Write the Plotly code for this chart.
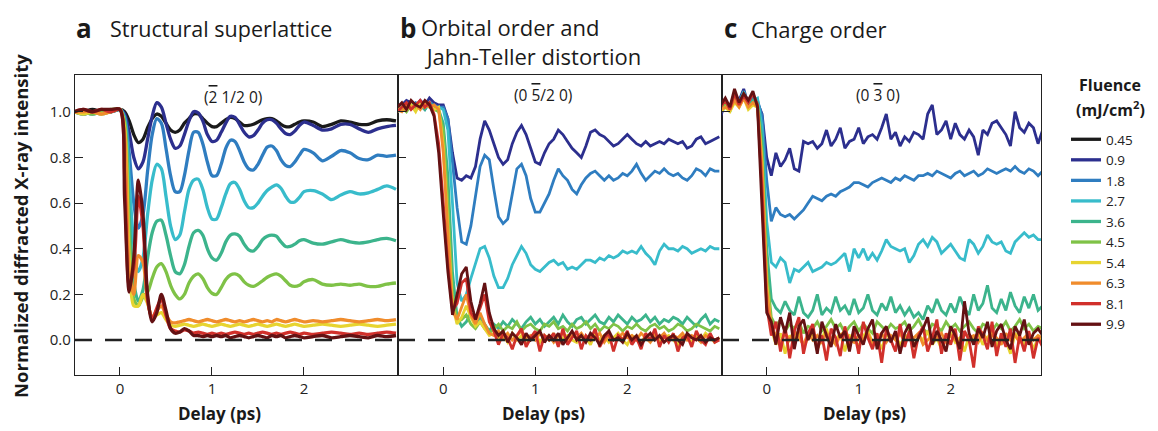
import plotly.graph_objects as go

# ---------------- data ----------------
fluences = ["0.45", "0.9", "1.8", "2.7", "3.6", "4.5", "5.4", "6.3", "8.1", "9.9"]
colors = ["#1a1a1a", "#2c2f8e", "#2f7dc0", "#38bccb", "#3cb48c", "#7fc247",
          "#e7d430", "#f08c2c", "#d1302b", "#641113"]

delay_a = [-0.5, -0.4, -0.3, -0.2, -0.1, 0.0,
           0.05, 0.10, 0.15, 0.20, 0.25, 0.30, 0.35, 0.40, 0.45, 0.50,
           0.55, 0.60, 0.65, 0.70, 0.75, 0.80, 0.85, 0.90, 0.95, 1.00,
           1.05, 1.10, 1.15, 1.20, 1.25, 1.30, 1.35, 1.40, 1.45, 1.50,
           1.55, 1.60, 1.65, 1.70, 1.75, 1.80, 1.85, 1.90, 1.95, 2.00,
           2.1, 2.2, 2.3, 2.4, 2.5, 2.6, 2.7, 2.8, 2.9, 3.0]

delay_bc = [-0.50, -0.45, -0.40, -0.35, -0.30, -0.25, -0.20, -0.15, -0.10, -0.05,
            0.00, 0.05, 0.10, 0.15, 0.20, 0.25, 0.30, 0.35, 0.40, 0.45,
            0.50, 0.55, 0.60, 0.65, 0.70, 0.75, 0.80, 0.85, 0.90, 0.95,
            1.00, 1.05, 1.10, 1.15, 1.20, 1.25, 1.30, 1.35, 1.40, 1.45,
            1.50, 1.55, 1.60, 1.65, 1.70, 1.75, 1.80, 1.85, 1.90, 1.95,
            2.00, 2.05, 2.10, 2.15, 2.20, 2.25, 2.30, 2.35, 2.40, 2.45,
            2.50, 2.55, 2.60, 2.65, 2.70, 2.75, 2.80, 2.85, 2.90, 2.95,
            3.00]

# panel a: structural superlattice (-2 1/2 0)
a_0p45 = [1.00, 1.00, 1.01, 1.00, 1.00, 1.01,
          1.00, 0.96, 0.90, 0.865, 0.88, 0.93, 0.97, 0.99, 0.98, 0.95,
          0.92, 0.91, 0.92, 0.95, 0.97, 0.99, 0.99, 0.97, 0.95, 0.935,
          0.935, 0.95, 0.965, 0.975, 0.97, 0.955, 0.94, 0.94, 0.945, 0.955,
          0.965, 0.97, 0.97, 0.96, 0.945, 0.935, 0.935, 0.945, 0.955, 0.96,
          0.955, 0.935, 0.945, 0.96, 0.955, 0.945, 0.945, 0.96, 0.965, 0.96]
a_0p9 = [1.00, 0.99, 1.00, 1.00, 1.00, 1.01,
         0.99, 0.91, 0.80, 0.75, 0.78, 0.88, 0.98, 1.04, 1.02, 0.95,
         0.88, 0.84, 0.85, 0.90, 0.96, 1.00, 0.995, 0.96, 0.90, 0.87,
         0.875, 0.91, 0.95, 0.98, 0.975, 0.945, 0.91, 0.89, 0.895, 0.92,
         0.95, 0.965, 0.965, 0.95, 0.925, 0.905, 0.90, 0.915, 0.94, 0.955,
         0.94, 0.92, 0.925, 0.945, 0.945, 0.925, 0.91, 0.925, 0.935, 0.94]
a_1p8 = [1.00, 1.00, 0.99, 1.00, 1.00, 1.01,
         0.98, 0.82, 0.60, 0.49, 0.55, 0.74, 0.90, 0.97, 0.95, 0.84,
         0.72, 0.65, 0.65, 0.72, 0.83, 0.91, 0.91, 0.86, 0.78, 0.72,
         0.72, 0.77, 0.84, 0.875, 0.87, 0.83, 0.78, 0.75, 0.745, 0.77,
         0.81, 0.845, 0.85, 0.83, 0.79, 0.765, 0.76, 0.78, 0.81, 0.835,
         0.82, 0.785, 0.805, 0.83, 0.82, 0.795, 0.79, 0.81, 0.805, 0.81]
a_2p7 = [1.00, 1.00, 1.00, 0.99, 1.00, 1.01,
         0.97, 0.70, 0.42, 0.30, 0.36, 0.55, 0.70, 0.77, 0.75, 0.63,
         0.50, 0.44, 0.46, 0.56, 0.66, 0.70, 0.705, 0.66, 0.58, 0.53,
         0.53, 0.58, 0.64, 0.685, 0.69, 0.66, 0.61, 0.58, 0.58, 0.60,
         0.63, 0.655, 0.67, 0.68, 0.665, 0.63, 0.605, 0.605, 0.625, 0.65,
         0.655, 0.64, 0.615, 0.635, 0.65, 0.64, 0.645, 0.66, 0.675, 0.66]
a_3p6 = [1.00, 0.99, 1.00, 1.00, 1.00, 1.01,
         0.96, 0.55, 0.25, 0.17, 0.22, 0.36, 0.47, 0.52, 0.525, 0.46,
         0.37, 0.30, 0.29, 0.33, 0.41, 0.47, 0.48, 0.46, 0.40, 0.36,
         0.35, 0.38, 0.43, 0.46, 0.465, 0.455, 0.42, 0.395, 0.39, 0.41,
         0.44, 0.455, 0.46, 0.455, 0.43, 0.41, 0.41, 0.42, 0.435, 0.44,
         0.425, 0.42, 0.43, 0.44, 0.43, 0.425, 0.43, 0.44, 0.445, 0.435]
a_4p5 = [1.00, 1.00, 0.99, 1.00, 1.01, 1.01,
         0.95, 0.45, 0.18, 0.15, 0.19, 0.21, 0.27, 0.32, 0.335, 0.30,
         0.24, 0.20, 0.18, 0.20, 0.25, 0.28, 0.29, 0.27, 0.23, 0.205,
         0.20, 0.23, 0.265, 0.285, 0.29, 0.28, 0.255, 0.24, 0.235, 0.245,
         0.26, 0.275, 0.285, 0.29, 0.28, 0.26, 0.24, 0.235, 0.24, 0.255,
         0.265, 0.245, 0.24, 0.245, 0.24, 0.245, 0.235, 0.235, 0.245, 0.25]
a_5p4 = [1.00, 0.99, 1.00, 0.99, 1.00, 1.01,
         0.93, 0.35, 0.15, 0.15, 0.20, 0.16, 0.10, 0.11, 0.12, 0.09,
         0.065, 0.06, 0.065, 0.07, 0.065, 0.06, 0.065, 0.07, 0.065, 0.06,
         0.065, 0.07, 0.065, 0.06, 0.065, 0.07, 0.065, 0.06, 0.065, 0.07,
         0.065, 0.06, 0.065, 0.07, 0.065, 0.06, 0.065, 0.07, 0.065, 0.06,
         0.065, 0.07, 0.065, 0.06, 0.065, 0.07, 0.065, 0.06, 0.065, 0.07]
a_6p3 = [1.00, 1.00, 1.00, 0.99, 1.00, 1.01,
         0.90, 0.30, 0.20, 0.37, 0.34, 0.17, 0.10, 0.13, 0.15, 0.11,
         0.08, 0.075, 0.08, 0.085, 0.09, 0.085, 0.08, 0.085, 0.09, 0.085,
         0.08, 0.085, 0.09, 0.085, 0.08, 0.085, 0.08, 0.085, 0.09, 0.085,
         0.08, 0.085, 0.08, 0.09, 0.085, 0.08, 0.085, 0.09, 0.085, 0.08,
         0.085, 0.08, 0.085, 0.09, 0.085, 0.08, 0.085, 0.09, 0.085, 0.09]
a_8p1 = [1.00, 1.01, 1.00, 1.01, 1.00, 1.01,
         0.72, 0.24, 0.32, 0.63, 0.50, 0.18, 0.09, 0.14, 0.18, 0.11,
         0.05, 0.04, 0.035, 0.045, 0.04, 0.03, 0.035, 0.03, 0.025, 0.03,
         0.025, 0.03, 0.025, 0.03, 0.035, 0.03, 0.025, 0.03, 0.025, 0.03,
         0.035, 0.03, 0.025, 0.03, 0.025, 0.03, 0.035, 0.03, 0.025, 0.03,
         0.025, 0.03, 0.035, 0.03, 0.025, 0.03, 0.025, 0.03, 0.035, 0.03]
a_9p9 = [1.00, 1.01, 1.00, 1.01, 1.01, 1.01,
         0.62, 0.21, 0.36, 0.70, 0.55, 0.20, 0.08, 0.12, 0.20, 0.13,
         0.05, 0.03, 0.035, 0.05, 0.04, 0.02, 0.02, 0.015, 0.02, 0.015,
         0.02, 0.015, 0.02, 0.01, 0.015, 0.02, 0.015, 0.01, 0.015, 0.02,
         0.015, 0.01, 0.02, 0.015, 0.02, 0.01, 0.015, 0.02, 0.015, 0.01,
         0.015, 0.02, 0.01, 0.015, 0.02, 0.015, 0.01, 0.02, 0.015, 0.02]

# panel b: orbital order (0 -5/2 0)
b_0p9 = [1.01, 1.03, 1.05, 1.04, 1.02, 1.05, 1.03, 1.06, 1.04, 1.03,
         1.03, 0.97, 0.82, 0.71, 0.70, 0.72, 0.71, 0.76, 0.88, 0.96,
         0.92, 0.86, 0.80, 0.77, 0.79, 0.86, 0.91, 0.94, 0.90, 0.84,
         0.78, 0.77, 0.82, 0.86, 0.88, 0.92, 0.90, 0.87, 0.84, 0.82,
         0.80, 0.85, 0.91, 0.92, 0.90, 0.89, 0.87, 0.85, 0.86, 0.88,
         0.90, 0.88, 0.86, 0.85, 0.87, 0.85, 0.86, 0.87, 0.86, 0.88,
         0.87, 0.86, 0.87, 0.84, 0.85, 0.88, 0.89, 0.86, 0.87, 0.88,
         0.89]
b_1p8 = [1.00, 1.02, 1.03, 1.02, 1.04, 1.03, 1.01, 1.04, 1.03, 1.02,
         1.02, 0.97, 0.78, 0.58, 0.43, 0.42, 0.50, 0.64, 0.76, 0.81,
         0.79, 0.66, 0.54, 0.51, 0.53, 0.64, 0.75, 0.77, 0.72, 0.62,
         0.56, 0.56, 0.60, 0.64, 0.70, 0.75, 0.72, 0.70, 0.66, 0.64,
         0.68, 0.71, 0.73, 0.74, 0.72, 0.70, 0.72, 0.70, 0.71, 0.73,
         0.72, 0.74, 0.77, 0.73, 0.70, 0.72, 0.74, 0.73, 0.75, 0.73,
         0.72, 0.73, 0.71, 0.70, 0.72, 0.75, 0.74, 0.72, 0.75, 0.74,
         0.74]
b_2p7 = [1.00, 1.01, 1.03, 1.02, 1.02, 1.04, 1.02, 1.03, 1.01, 1.02,
         1.01, 0.92, 0.60, 0.25, 0.17, 0.20, 0.27, 0.34, 0.40, 0.41,
         0.36, 0.28, 0.23, 0.23, 0.27, 0.33, 0.37, 0.41, 0.38, 0.33,
         0.31, 0.30, 0.32, 0.34, 0.35, 0.33, 0.34, 0.31, 0.32, 0.31,
         0.33, 0.35, 0.35, 0.34, 0.36, 0.35, 0.37, 0.36, 0.37, 0.39,
         0.38, 0.39, 0.38, 0.41, 0.38, 0.36, 0.33, 0.39, 0.42, 0.40,
         0.40, 0.39, 0.41, 0.40, 0.38, 0.39, 0.40, 0.39, 0.41, 0.40,
         0.40]
b_3p6 = [1.00, 1.02, 1.01, 1.03, 1.02, 1.03, 1.01, 1.04, 1.02, 1.01,
         0.95, 0.72, 0.30, 0.10, 0.06, 0.08, 0.12, 0.07, 0.10, 0.07,
         0.04, 0.07, 0.05, 0.08, 0.06, 0.09, 0.07, 0.05, 0.08, 0.10,
         0.07, 0.09, 0.06, 0.08, 0.10, 0.07, 0.11, 0.08, 0.06, 0.09,
         0.10, 0.07, 0.09, 0.11, 0.08, 0.07, 0.10, 0.08, 0.11, 0.09,
         0.07, 0.10, 0.08, 0.09, 0.11, 0.08, 0.10, 0.07, 0.09, 0.08,
         0.10, 0.09, 0.07, 0.10, 0.08, 0.06, 0.09, 0.11, 0.07, 0.09,
         0.08]
b_4p5 = [1.01, 1.02, 1.00, 1.03, 1.01, 1.03, 1.02, 1.03, 1.01, 1.00,
         0.92, 0.60, 0.20, 0.08, 0.09, 0.11, 0.07, 0.05, 0.08, 0.05,
         0.03, 0.05, 0.07, 0.04, 0.06, 0.05, 0.08, 0.04, 0.06, 0.07,
         0.05, 0.04, 0.07, 0.06, 0.08, 0.05, 0.06, 0.04, 0.07, 0.05,
         0.06, 0.08, 0.05, 0.07, 0.04, 0.06, 0.05, 0.07, 0.06, 0.04,
         0.06, 0.05, 0.07, 0.05, 0.04, 0.06, 0.07, 0.05, 0.06, 0.04,
         0.05, 0.07, 0.06, 0.04, 0.05, 0.07, 0.06, 0.05, 0.04, 0.06,
         0.05]
b_5p4 = [1.00, 1.02, 1.01, 1.03, 1.00, 1.04, 1.02, 1.03, 1.01, 1.02,
         0.85, 0.50, 0.15, 0.07, 0.10, 0.15, 0.10, 0.06, 0.08, 0.05,
         0.02, 0.03, 0.01, 0.02, -0.01, 0.03, 0.00, 0.02, -0.02, 0.01,
         0.03, -0.01, 0.02, 0.00, 0.03, -0.02, 0.01, 0.02, 0.00, -0.01,
         0.02, 0.01, -0.02, 0.03, 0.00, 0.02, -0.01, 0.01, 0.03, 0.00,
         -0.02, 0.02, 0.01, -0.01, 0.02, 0.00, 0.03, -0.01, 0.01, 0.02,
         0.00, -0.02, 0.02, 0.01, -0.01, 0.02, 0.00, 0.03, 0.01, -0.01,
         0.01]
b_6p3 = [1.01, 1.00, 1.03, 1.02, 1.03, 1.01, 1.04, 1.02, 1.03, 1.01,
         0.82, 0.45, 0.13, 0.09, 0.15, 0.20, 0.11, 0.07, 0.12, 0.07,
         0.03, 0.02, 0.04, 0.01, 0.03, 0.00, 0.02, 0.04, 0.01, 0.02,
         0.00, 0.03, 0.01, 0.02, -0.01, 0.02, 0.03, 0.00, 0.02, 0.01,
         0.03, 0.00, 0.02, 0.01, 0.03, -0.01, 0.02, 0.00, 0.01, 0.03,
         0.01, 0.02, 0.00, 0.03, 0.01, -0.01, 0.02, 0.01, 0.03, 0.00,
         0.02, 0.01, 0.03, 0.00, 0.02, 0.01, -0.01, 0.02, 0.01, 0.00,
         0.01]
b_8p1 = [1.00, 1.02, 1.04, 1.01, 1.03, 1.05, 1.02, 1.04, 0.99, 0.86,
         0.60, 0.33, 0.13, 0.16, 0.25, 0.27, 0.12, 0.09, 0.14, 0.20,
         0.08, 0.04, -0.02, 0.03, 0.01, -0.04, 0.02, 0.05, -0.03, 0.01,
         0.04, -0.05, 0.02, 0.00, 0.03, -0.03, 0.05, -0.02, 0.01, 0.04,
         -0.04, 0.02, 0.00, 0.05, -0.03, 0.01, 0.03, -0.05, 0.02, 0.00,
         0.04, -0.02, 0.01, -0.04, 0.03, 0.00, 0.05, -0.03, 0.02, -0.01,
         0.03, -0.05, 0.01, 0.02, -0.03, 0.04, 0.00, -0.02, 0.03, -0.01,
         0.00]
b_9p9 = [1.02, 1.04, 1.01, 1.05, 1.03, 1.02, 1.05, 1.03, 0.98, 0.82,
         0.55, 0.30, 0.11, 0.20, 0.29, 0.32, 0.17, 0.09, 0.16, 0.25,
         0.12, 0.05, 0.02, 0.04, -0.01, 0.03, 0.01, -0.02, 0.03, 0.00,
         0.02, 0.04, -0.01, 0.02, 0.00, 0.03, -0.02, 0.01, 0.04, 0.00,
         0.02, -0.01, 0.03, 0.01, -0.02, 0.02, 0.04, 0.00, 0.01, -0.01,
         0.03, 0.00, 0.02, -0.02, 0.01, 0.03, 0.00, 0.02, -0.01, 0.01,
         0.02, 0.00, -0.02, 0.03, 0.01, 0.00, 0.02, -0.01, 0.01, 0.00,
         0.01]

# panel c: charge order (0 -3 0)
c_0p9 = [0.98, 1.04, 1.02, 1.08, 1.05, 1.10, 1.03, 1.07, 1.04, 0.99,
         0.80, 0.72, 0.82, 0.76, 0.79, 0.84, 0.75, 0.74, 0.87, 0.86,
         0.87, 0.84, 0.86, 0.92, 0.85, 0.88, 0.93, 0.84, 0.87, 0.88,
         0.93, 0.86, 0.89, 0.90, 0.88, 0.93, 0.99, 0.88, 0.91, 0.85,
         0.89, 0.87, 0.91, 0.90, 0.88, 0.99, 1.03, 0.90, 0.92, 0.96,
         0.88, 0.95, 0.90, 0.88, 0.92, 0.89, 0.81, 0.92, 0.90, 0.95,
         0.96, 0.93, 0.90, 0.85, 1.00, 0.93, 0.91, 0.95, 0.93, 0.86,
         0.92]
c_1p8 = [1.00, 1.03, 1.01, 1.06, 1.04, 1.08, 1.02, 1.06, 1.05, 0.98,
         0.70, 0.52, 0.58, 0.55, 0.54, 0.55, 0.53, 0.55, 0.57, 0.60,
         0.63, 0.62, 0.61, 0.63, 0.64, 0.63, 0.65, 0.66, 0.67, 0.69,
         0.69, 0.68, 0.67, 0.69, 0.70, 0.71, 0.70, 0.69, 0.71, 0.70,
         0.72, 0.71, 0.70, 0.72, 0.72, 0.73, 0.72, 0.74, 0.73, 0.72,
         0.71, 0.73, 0.74, 0.72, 0.73, 0.74, 0.72, 0.73, 0.75, 0.74,
         0.73, 0.74, 0.75, 0.74, 0.76, 0.74, 0.73, 0.75, 0.74, 0.72,
         0.74]
c_2p7 = [1.01, 1.03, 1.00, 1.07, 1.04, 1.09, 1.03, 1.05, 1.06, 0.93,
         0.52, 0.34, 0.32, 0.36, 0.34, 0.25, 0.31, 0.30, 0.32, 0.34,
         0.30, 0.31, 0.32, 0.34, 0.33, 0.34, 0.36, 0.38, 0.30, 0.40,
         0.36, 0.40, 0.35, 0.38, 0.35, 0.39, 0.44, 0.41, 0.40, 0.39,
         0.40, 0.34, 0.37, 0.42, 0.44, 0.41, 0.45, 0.43, 0.38, 0.40,
         0.42, 0.39, 0.36, 0.35, 0.44, 0.42, 0.38, 0.41, 0.46, 0.43,
         0.42, 0.43, 0.39, 0.38, 0.43, 0.45, 0.47, 0.45, 0.46, 0.44,
         0.44]
c_3p6 = [1.00, 1.02, 1.01, 1.06, 1.03, 1.08, 1.02, 1.05, 1.04, 0.88,
         0.40, 0.18, 0.14, 0.12, 0.17, 0.13, 0.11, 0.19, 0.12, 0.10,
         0.13, 0.20, 0.11, 0.14, 0.12, 0.19, 0.13, 0.15, 0.11, 0.18,
         0.12, 0.14, 0.20, 0.13, 0.11, 0.16, 0.13, 0.19, 0.12, 0.15,
         0.11, 0.14, 0.10, 0.12, 0.09, 0.15, 0.12, 0.18, 0.13, 0.11,
         0.16, 0.12, 0.19, 0.14, 0.11, 0.20, 0.13, 0.16, 0.24, 0.14,
         0.12, 0.18, 0.13, 0.21, 0.15, 0.12, 0.19, 0.14, 0.20, 0.13,
         0.15]
c_4p5 = [1.01, 1.03, 1.02, 1.05, 1.03, 1.07, 1.02, 1.04, 1.03, 0.82,
         0.30, 0.10, 0.06, 0.09, 0.04, 0.07, 0.05, 0.08, 0.03, 0.06,
         0.05, 0.08, 0.04, 0.06, 0.09, 0.05, 0.07, 0.03, 0.06, 0.08,
         0.04, 0.07, 0.05, 0.03, 0.08, 0.06, 0.04, 0.07, 0.05, 0.06,
         0.08, 0.04, 0.06, 0.09, 0.05, 0.03, 0.07, 0.06, 0.04, 0.08,
         0.05, 0.07, 0.04, 0.06, 0.08, 0.05, 0.03, 0.07, 0.06, 0.04,
         0.07, 0.05, 0.08, 0.04, 0.06, 0.09, 0.05, 0.07, 0.04, 0.06,
         0.05]
c_5p4 = [1.00, 1.02, 1.00, 1.04, 1.02, 1.06, 1.01, 1.03, 1.02, 0.78,
         0.25, 0.05, -0.02, 0.03, -0.06, 0.02, 0.00, 0.04, -0.03, 0.01,
         0.03, -0.04, 0.01, 0.05, -0.02, 0.00, 0.03, -0.05, 0.02, 0.01,
         -0.03, 0.02, 0.04, -0.01, 0.01, -0.04, 0.03, 0.00, 0.02, -0.02,
         0.01, 0.03, -0.03, 0.02, 0.00, 0.04, -0.02, 0.01, -0.04, 0.02,
         0.03, -0.01, 0.01, -0.05, 0.02, 0.00, 0.03, -0.02, 0.01, 0.04,
         -0.03, 0.02, 0.00, -0.06, 0.03, 0.01, -0.02, 0.02, -0.04, 0.01,
         0.00]
c_6p3 = [1.01, 1.02, 1.01, 1.05, 1.02, 1.06, 1.02, 1.04, 1.02, 0.75,
         0.22, 0.06, 0.02, -0.01, 0.03, 0.00, 0.04, 0.01, -0.02, 0.03,
         0.00, 0.02, -0.01, 0.03, 0.01, -0.02, 0.02, 0.04, 0.00, -0.01,
         0.02, 0.00, 0.03, -0.02, 0.01, 0.03, -0.01, 0.02, 0.00, 0.03,
         -0.01, 0.02, 0.01, 0.03, -0.02, 0.00, 0.02, 0.01, 0.03, -0.01,
         0.02, 0.00, -0.02, 0.03, 0.01, 0.02, -0.01, 0.03, 0.00, 0.02,
         0.01, -0.02, 0.03, 0.00, 0.02, -0.01, 0.01, 0.03, 0.00, 0.02,
         0.01]
c_8p1 = [1.02, 1.05, 1.01, 1.08, 1.03, 1.07, 1.04, 1.08, 1.03, 0.65,
         0.15, 0.02, 0.08, -0.05, 0.06, -0.08, 0.04, 0.10, -0.06, 0.03,
         0.07, -0.04, 0.02, -0.09, 0.05, 0.01, -0.07, 0.06, -0.02, 0.04,
         -0.06, 0.08, 0.01, -0.04, 0.03, -0.10, 0.05, 0.00, -0.05, 0.07,
         -0.03, 0.04, -0.08, 0.02, 0.06, -0.05, 0.01, 0.09, -0.06, 0.03,
         -0.02, 0.05, -0.09, 0.04, 0.00, -0.12, 0.06, 0.02, -0.04, 0.08,
         -0.07, 0.03, -0.03, 0.05, -0.10, 0.02, -0.05, 0.04, -0.08, 0.01,
         -0.03]
c_9p9 = [1.03, 1.06, 1.02, 1.10, 1.04, 1.08, 1.05, 1.09, 1.02, 0.60,
         0.12, 0.08, -0.02, 0.10, 0.03, 0.12, -0.04, 0.06, 0.09, 0.00,
         0.05, -0.06, 0.08, 0.02, -0.03, 0.07, 0.01, 0.04, -0.05, 0.06,
         0.02, -0.02, 0.05, 0.09, -0.04, 0.03, 0.06, -0.01, 0.04, -0.06,
         0.03, 0.07, -0.03, 0.01, 0.05, 0.10, -0.02, 0.04, 0.00, -0.05,
         0.06, 0.02, -0.04, 0.17, 0.03, -0.02, 0.05, 0.01, 0.08, -0.03,
         0.04, 0.07, 0.00, -0.04, 0.06, 0.02, 0.09, -0.02, 0.03, 0.05,
         0.02]

panel_a = [a_0p45, a_0p9, a_1p8, a_2p7, a_3p6, a_4p5, a_5p4, a_6p3, a_8p1, a_9p9]
panel_b = [None, b_0p9, b_1p8, b_2p7, b_3p6, b_4p5, b_5p4, b_6p3, b_8p1, b_9p9]
panel_c = [None, c_0p9, c_1p8, c_2p7, c_3p6, c_4p5, c_5p4, c_6p3, c_8p1, c_9p9]

# ---------------- figure ----------------
# the page body has an 8 px margin: the figure is sized/positioned to compensate
OFF = 8
W, H = 1158 - OFF, 431 - OFF
FONT = "Open Sans, Noto Sans, DejaVu Sans, sans-serif"


def px(x):
    return (x - OFF) / W


def py(y):
    return 1 - (y - OFF) / H


fig = go.Figure()

for i, (lab, col) in enumerate(zip(fluences, colors)):
    fig.add_trace(go.Scatter(x=delay_a, y=panel_a[i], mode="lines", name=lab,
                             line=dict(color=col, width=3.3, shape="spline", smoothing=0.8),
                             xaxis="x", yaxis="y", legendgroup=lab, showlegend=True))
for i, (lab, col) in enumerate(zip(fluences, colors)):
    if panel_b[i] is not None:
        fig.add_trace(go.Scatter(x=delay_bc, y=panel_b[i], mode="lines", name=lab,
                                 line=dict(color=col, width=2.8),
                                 xaxis="x2", yaxis="y2", legendgroup=lab, showlegend=False))
for i, (lab, col) in enumerate(zip(fluences, colors)):
    if panel_c[i] is not None:
        fig.add_trace(go.Scatter(x=delay_bc, y=panel_c[i], mode="lines", name=lab,
                                 line=dict(color=col, width=2.8),
                                 xaxis="x3", yaxis="y3", legendgroup=lab, showlegend=False))

ydom = [py(375), py(75)]
yrange = [-0.153, 1.161]
axis_common = dict(showline=True, linecolor="#222", linewidth=1.4, mirror=True,
                   showgrid=False, zeroline=False, ticks="inside", ticklen=8,
                   tickwidth=1.2, tickcolor="#222",
                   tickfont=dict(family=FONT, size=15, color="#222"))

fig.update_layout(
    width=W, height=H, margin=dict(l=0, r=0, t=0, b=0),
    paper_bgcolor="white", plot_bgcolor="white",
    font=dict(family=FONT, color="#222"),
    xaxis=dict(domain=[px(75), px(398)], range=[-0.489, 3.022], tickvals=[0, 1, 2],
               anchor="y", **axis_common),
    xaxis2=dict(domain=[px(398), px(722)], range=[-0.492, 3.029], tickvals=[0, 1, 2],
                anchor="y2", **axis_common),
    xaxis3=dict(domain=[px(722), px(1041)], range=[-0.486, 2.982], tickvals=[0, 1, 2],
                anchor="y3", **axis_common),
    yaxis=dict(domain=ydom, range=yrange, tickvals=[0, 0.2, 0.4, 0.6, 0.8, 1.0],
               tickformat=".1f", anchor="x", ticklabelstandoff=0, **axis_common),
    yaxis2=dict(domain=ydom, range=yrange, tickvals=[0, 0.2, 0.4, 0.6, 0.8, 1.0],
                showticklabels=False, anchor="x2", **axis_common),
    yaxis3=dict(domain=ydom, range=yrange, tickvals=[0, 0.2, 0.4, 0.6, 0.8, 1.0],
                showticklabels=False, anchor="x3", **axis_common),
    legend=dict(x=px(1066), y=py(124), xanchor="left", yanchor="top",
                font=dict(family=FONT, size=13.5, color="#222"),
                itemwidth=30, tracegroupgap=0, bgcolor="rgba(0,0,0,0)"),
    showlegend=True,
)

# dashed zero line in every panel
for xr, yr in [("x domain", "y"), ("x2 domain", "y2"), ("x3 domain", "y3")]:
    fig.add_shape(type="line", xref=xr, yref=yr, x0=0, x1=1, y0=0, y1=0,
                  line=dict(color="#222", width=2.5, dash="17px,13px"), layer="above")

ann = []


def text(x, y, s, size, xanchor="center", angle=0, family=FONT, align="center"):
    ann.append(dict(x=px(x), y=py(y), xref="paper", yref="paper", text=s,
                    showarrow=False, xanchor=xanchor, yanchor="middle", textangle=angle,
                    align=align, font=dict(family=family, size=size, color="#1a1a1a")))


text(84, 28, "<b>a</b>", 26)
text(108, 29, "Structural superlattice", 21.5, "left")
text(408, 28, "<b>b</b>", 26)
text(419, 41, "Orbital order and<br>\u00a0Jahn-Teller distortion", 22, "left", align="left")
text(730, 28, "<b>c</b>", 26)
text(749, 29, "Charge order", 22, "left")

OV = '<span style="text-decoration:overline">%s</span>'
text(233, 97, "(" + OV % "2" + " 1/2 0)", 15.5)
text(543, 95, "(0 " + OV % "5" + "/2 0)", 15.5)
text(878, 95, "(0 " + OV % "3" + " 0)", 15.5)

text(219, 413, "<b>Delay (ps)</b>", 17)
text(543, 413, "<b>Delay (ps)</b>", 17)
text(864, 413, "<b>Delay (ps)</b>", 17)

text(20, 226, "<b>Normalized diffracted X-ray intensity</b>", 18.5, angle=-90)
text(1110, 85, "<b>Fluence</b>", 16)
text(1110, 109, "<b>(mJ/cm<sup>2</sup>)</b>", 16)

fig.update_layout(annotations=ann)

fig.write_html("out.html")
